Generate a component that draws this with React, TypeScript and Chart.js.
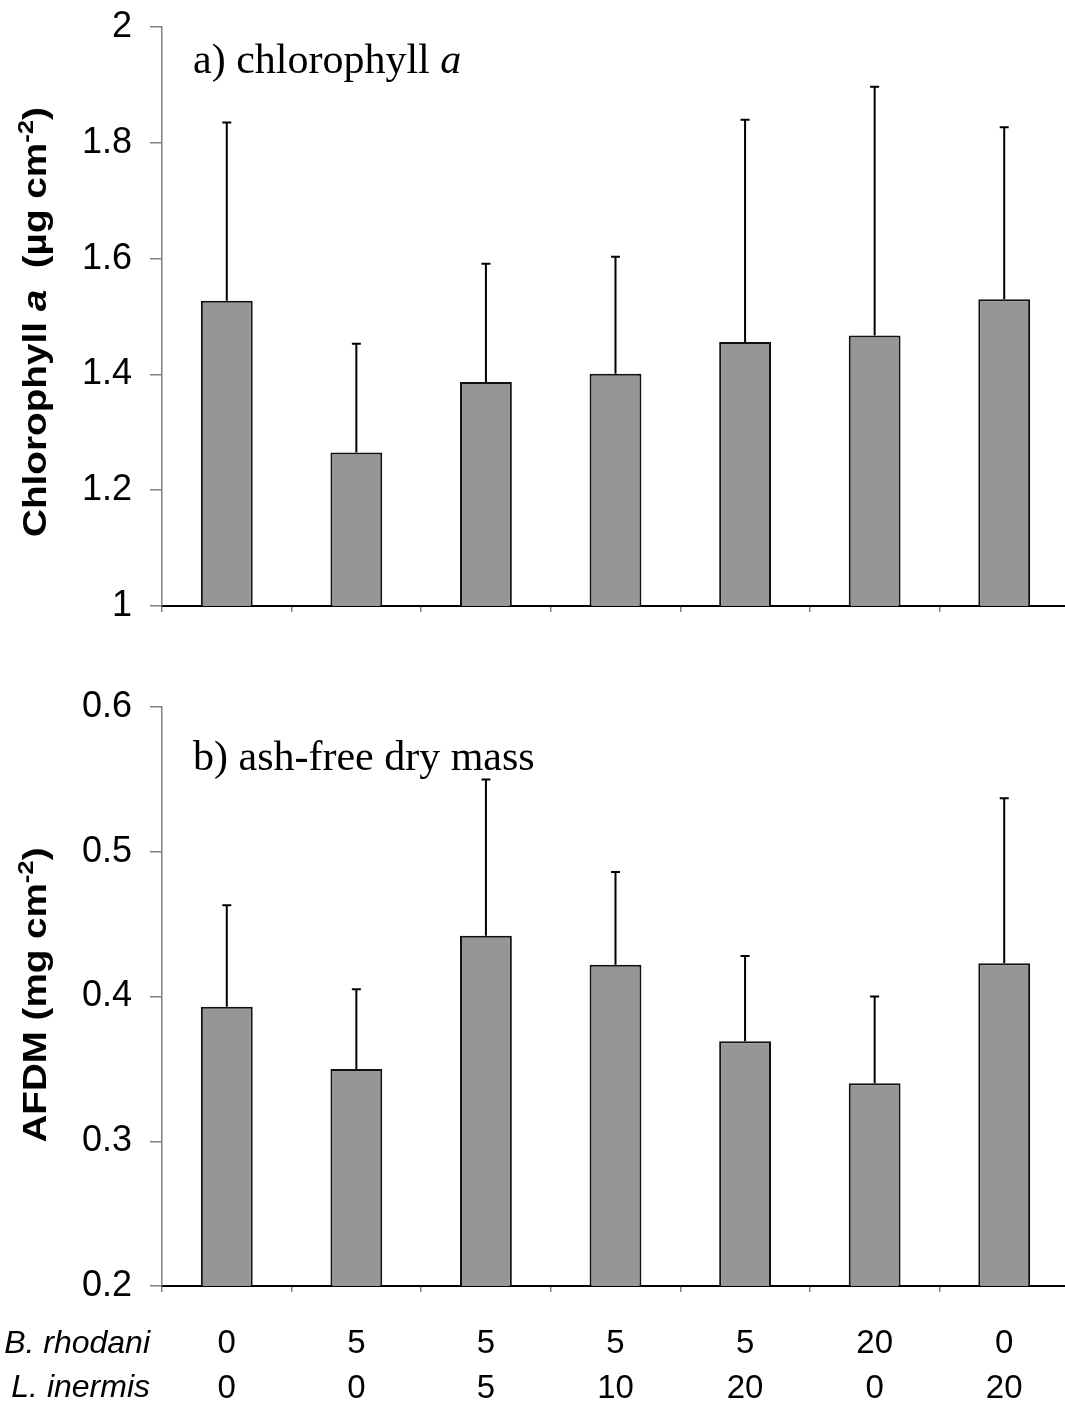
import React, { useEffect, useRef } from "react";
import { Chart, registerables } from "chart.js";

Chart.register(...registerables);

// ---- data ----
const categories = ["0/0", "5/0", "5/5", "5/10", "5/20", "20/0", "0/20"];
const bRhodani = ["0", "5", "5", "5", "5", "20", "0"];
const lInermis = ["0", "0", "5", "10", "20", "0", "20"];

const chlMean = [1.527, 1.265, 1.387, 1.401, 1.456, 1.467, 1.53];
const chlUpper = [1.835, 1.453, 1.591, 1.603, 1.84, 1.897, 1.827];

const afdmMean = [0.393, 0.35, 0.442, 0.422, 0.369, 0.34, 0.423];
const afdmUpper = [0.463, 0.405, 0.55, 0.486, 0.428, 0.4, 0.537];

const chlTicks = [1, 1.2, 1.4, 1.6, 1.8, 2];
const afdmTicks = [0.2, 0.3, 0.4, 0.5, 0.6];

const SANS = '"Liberation Sans", Arial, Helvetica, sans-serif';
const SERIF = '"Liberation Serif", "Times New Roman", serif';

type Seg = { text: string; font: string; dy?: number };

function drawRotatedRich(
  ctx: CanvasRenderingContext2D,
  segs: Seg[],
  baselineX: number,
  centerY: number,
  targetLen: number
) {
  ctx.save();
  let total = 0;
  const widths = segs.map((s) => {
    ctx.font = s.font;
    const w = ctx.measureText(s.text).width;
    total += w;
    return w;
  });
  const sc = targetLen / total;
  ctx.translate(baselineX, centerY);
  ctx.rotate(-Math.PI / 2);
  ctx.scale(sc, 1);
  ctx.fillStyle = "#000";
  ctx.textBaseline = "alphabetic";
  ctx.textAlign = "left";
  let x = -total / 2;
  segs.forEach((s, i) => {
    ctx.font = s.font;
    ctx.fillText(s.text, x, s.dy || 0);
    x += widths[i];
  });
  ctx.restore();
}

function drawRich(ctx: CanvasRenderingContext2D, segs: Seg[], x0: number, baseline: number) {
  ctx.save();
  ctx.fillStyle = "#000";
  ctx.textBaseline = "alphabetic";
  ctx.textAlign = "left";
  let x = x0;
  segs.forEach((s) => {
    ctx.font = s.font;
    ctx.fillText(s.text, x, baseline + (s.dy || 0));
    x += ctx.measureText(s.text).width;
  });
  ctx.restore();
}

const errorBarPlugin = {
  id: "errorBars",
  afterDatasetsDraw(chart: any, _args: any, opts: any) {
    const upper: number[] = opts.upper || [];
    const meta = chart.getDatasetMeta(0);
    const yScale = chart.scales.y;
    const ctx: CanvasRenderingContext2D = chart.ctx;
    ctx.save();
    ctx.strokeStyle = "#000";
    ctx.lineWidth = 2;
    meta.data.forEach((bar: any, i: number) => {
      const x = bar.x;
      const yTop = yScale.getPixelForValue(upper[i]);
      ctx.beginPath();
      ctx.moveTo(x, bar.y);
      ctx.lineTo(x, yTop);
      ctx.moveTo(x - 4.5, yTop);
      ctx.lineTo(x + 4.5, yTop);
      ctx.stroke();
    });
    ctx.restore();
  },
};

const textPlugin = {
  id: "panelText",
  afterDraw(chart: any, _args: any, opts: any) {
    const ctx: CanvasRenderingContext2D = chart.ctx;
    if (opts.title) {
      drawRotatedRich(ctx, opts.title, opts.titleX, opts.titleY, opts.titleLen);
    }
    if (opts.label) {
      drawRich(ctx, opts.label, opts.labelX, opts.labelY);
    }
    if (opts.rows) {
      ctx.save();
      ctx.fillStyle = "#000";
      ctx.font = `italic 32px ${SANS}`;
      ctx.textAlign = "right";
      ctx.textBaseline = "middle";
      opts.rows.forEach((r: any) => ctx.fillText(r.text, r.x, r.y));
      ctx.restore();
    }
  },
};

function fmt(v: number) {
  return String(Number(v.toFixed(1)));
}

function makeConfig(
  means: number[],
  upper: number[],
  ticks: number[],
  canvasH: number,
  areaTop: number,
  areaBottom: number,
  xLabels: any[],
  textOpts: any
): any {
  return {
    type: "bar",
    data: {
      labels: xLabels,
      datasets: [
        {
          data: means,
          backgroundColor: "#969696",
          borderColor: "#111",
          borderWidth: 2,
          borderSkipped: "bottom",
          barPercentage: 0.4,
          categoryPercentage: 1,
        },
      ],
    },
    options: {
      responsive: false,
      animation: false,
      devicePixelRatio: 1,
      layout: { padding: { top: areaTop, left: 0, right: 3, bottom: 0 } },
      plugins: {
        legend: { display: false },
        tooltip: { enabled: false },
        title: { display: false },
        errorBars: { upper },
        panelText: textOpts,
      },
      scales: {
        x: {
          offset: true,
          grid: {
            offset: true,
            drawOnChartArea: false,
            drawTicks: true,
            tickLength: 6,
            color: "#808080",
            lineWidth: 1.5,
          },
          border: { display: true, color: "#000", width: 2 },
          ticks: {
            color: "#000",
            font: { family: SANS, size: 33, lineHeight: 1.35 },
            padding: 30,
            maxRotation: 0,
            autoSkip: false,
          },
          afterFit: (s: any) => {
            s.height = canvasH - areaBottom;
          },
        },
        y: {
          min: ticks[0],
          max: ticks[ticks.length - 1],
          afterBuildTicks: (axis: any) => {
            axis.ticks = ticks.map((v) => ({ value: v }));
          },
          grid: {
            drawOnChartArea: false,
            drawTicks: true,
            tickLength: 12,
            color: "#808080",
            lineWidth: 1.5,
          },
          border: { display: true, color: "#808080", width: 1.5 },
          ticks: {
            color: "#000",
            font: { family: SANS, size: 36 },
            padding: 18,
            callback: (v: any) => fmt(Number(v)),
          },
          afterFit: (s: any) => {
            s.width = 162;
          },
        },
      },
    },
    plugins: [errorBarPlugin, textPlugin],
  };
}

// top canvas is shifted up so its chart area can start at page y=27
const TOP_OFF = -13;
const TOP_H = 663;
const BOT_TOP = 650;
const BOT_H = 758;
const CW = 1072;

export default function App() {
  const topRef = useRef<HTMLCanvasElement>(null);
  const botRef = useRef<HTMLCanvasElement>(null);

  useEffect(() => {
    const bold = `bold 33px ${SANS}`;
    const boldIt = `italic bold 33px ${SANS}`;
    const sup = `bold 22px ${SANS}`;
    const t = -TOP_OFF;
    const topText = {
      title: [
        { text: "Chlorophyll ", font: bold },
        { text: "a", font: boldIt },
        { text: "  (\u00b5g cm", font: bold },
        { text: "-2", font: sup, dy: -13 },
        { text: ")", font: bold },
      ],
      titleX: 46,
      titleY: 322 + t,
      titleLen: 430,
      label: [
        { text: "a) chlorophyll ", font: `42px ${SERIF}` },
        { text: "a", font: `italic 42px ${SERIF}` },
      ],
      labelX: 193,
      labelY: 73 + t,
    };
    const botText = {
      title: [
        { text: "AFDM (mg cm", font: bold },
        { text: "-2", font: sup, dy: -13 },
        { text: ")", font: bold },
      ],
      titleX: 46,
      titleY: 995 - BOT_TOP,
      titleLen: 295,
      label: [{ text: "b) ash-free dry mass", font: `42px ${SERIF}` }],
      labelX: 193,
      labelY: 770 - BOT_TOP,
      rows: [
        { text: "B. rhodani", x: 150, y: 1344 - BOT_TOP },
        { text: "L. inermis", x: 150, y: 1388 - BOT_TOP },
      ],
    };
    const topLabels = categories.map(() => "");
    const botLabels = categories.map((_c, i) => [bRhodani[i], lInermis[i]]);

    const c1 = new Chart(
      topRef.current as HTMLCanvasElement,
      makeConfig(chlMean, chlUpper, chlTicks, TOP_H, 27 + t, 606 + t, topLabels, topText)
    );
    const c2 = new Chart(
      botRef.current as HTMLCanvasElement,
      makeConfig(afdmMean, afdmUpper, afdmTicks, BOT_H, 707 - BOT_TOP, 1286 - BOT_TOP, botLabels, botText)
    );
    return () => {
      c1.destroy();
      c2.destroy();
    };
  }, []);

  return (
    <div
      style={{
        position: "absolute",
        left: 0,
        top: 0,
        width: 1065,
        height: 1408,
        overflow: "hidden",
        background: "#fff",
      }}
    >
      <canvas
        ref={topRef}
        width={CW}
        height={TOP_H}
        style={{ position: "absolute", left: 0, top: TOP_OFF, width: CW, height: TOP_H }}
      />
      <canvas
        ref={botRef}
        width={CW}
        height={BOT_H}
        style={{ position: "absolute", left: 0, top: BOT_TOP, width: CW, height: BOT_H }}
      />
    </div>
  );
}
